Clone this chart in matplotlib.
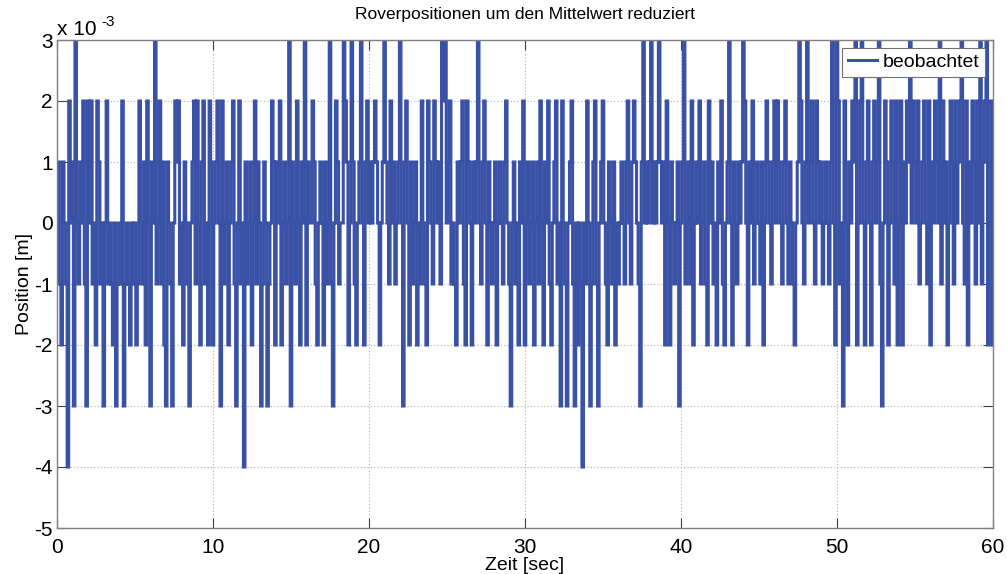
import numpy as np
import matplotlib
matplotlib.use("Agg")
import matplotlib.pyplot as plt
from matplotlib.ticker import FuncFormatter

plt.rcParams['font.family'] = ['Liberation Sans', 'DejaVu Sans']

# rover position minus its mean, in mm, sampled at 10 Hz (one row per second)
pos_00_10 = [
    0, 1, -1, -2, 1, 0, -1, -4, 2, 0,
    1, -3, 3, 0, -1, 1, 0, 2, -1, -3,
    2, 0, 2, -1, 0, -2, 2, 1, -1, 0,
    -3, 0, 2, -1, 0, -1, -2, 0, -3, -1,
    0, -1, 2, -3, -1, 0, -1, -2, 0, -1,
    0, -2, -1, 2, 0, -1, 1, -2, 2, 0,
    -3, 1, 0, 3, -1, 0, 2, -1, 1, -2,
    -3, 1, 0, -1, -3, 0, 2, 1, 2, -1,
    0, -2, 1, 0, -1, -3, 0, 1, 2, -1,
    2, 0, -2, 1, 2, -1, 0, -2, 2, 1,
]
pos_10_20 = [
    -2, 0, 1, 2, 0, -3, 2, -1, 0, 1,
    -2, 0, 1, 2, -1, -3, 0, 2, -1, 0,
    -4, 1, -1, 0, 1, -2, 0, 2, -1, 1,
    0, -3, -1, 1, 0, -3, -1, 0, 2, 1,
    -2, 1, 0, 2, -2, 0, 1, -1, 0, 3,
    -3, 1, 0, -1, 2, 0, -2, 1, 0, 3,
    -2, 1, 0, 0, 2, 1, -1, -2, 0, 1,
    0, -2, 1, -1, 0, 3, -1, -3, 0, 2,
    1, -1, 0, 0, 3, 2, 1, -2, 0, 3,
    1, -1, -2, 0, 1, 3, 0, -2, 1, 2,
]
pos_20_30 = [
    0, 1, 0, 1, 2, 1, 0, -2, 0, 1,
    3, 1, 0, -1, 2, 0, 1, -1, 0, 1,
    3, 0, -3, 1, 2, 0, -2, 1, -1, 0,
    1, -2, 0, -1, 2, 0, -1, -2, 2, 1,
    0, -1, 2, 1, 0, 1, -1, 3, 2, 3,
    0, 1, 2, -1, 0, -1, -2, 1, 0, 1,
    2, -1, -2, 2, 1, 0, -2, 1, 0, 1,
    3, 0, -1, 1, 2, 0, -2, 1, 0, -1,
    0, 1, -2, 0, 1, 0, -1, 1, 2, 0,
    -1, -3, 0, 1, -1, 0, -2, 1, 0, 2,
]
pos_30_40 = [
    -2, 0, 1, -1, 0, 1, -2, 0, 1, -1,
    2, 0, -2, 1, 0, 2, -1, -2, 0, 1,
    2, -1, 0, -3, 2, 0, -1, -3, 0, 1,
    2, -1, -3, 0, -2, 0, -1, -4, 0, -1,
    2, 0, -3, -1, 1, 2, -1, -3, 0, 1,
    2, 0, -1, -2, 1, 0, -1, 1, -2, 0,
    -1, 0, 1, 0, -1, 1, 2, 0, -1, 1,
    2, 1, 0, -1, -3, 1, 3, 0, 1, 0,
    1, 3, 0, 1, 0, 1, 3, 1, 0, 1,
    -2, 2, 0, -2, 1, 0, -1, 0, 1, -3,
]
pos_40_50 = [
    0, 1, 3, -1, 0, 1, -1, 2, -2, 0,
    1, 0, 2, -1, 0, 1, -1, -2, 2, 0,
    1, -1, 0, -2, 1, 0, 2, -1, -2, 0,
    1, 3, 0, -2, 1, 0, -1, 1, 0, 1,
    3, 2, 0, -2, 1, 0, 2, -1, 0, 1,
    0, -1, 1, -2, 0, 2, 1, 0, -1, 1,
    2, 0, 2, 1, 0, -1, 1, 2, 0, -1,
    1, 0, -1, -2, 0, 1, 3, 2, 0, -1,
    1, 3, 0, 1, 2, 0, -1, 2, 1, 0,
    1, -1, 0, 1, 0, -1, 1, 3, 0, -2,
]
pos_50_60 = [
    3, 2, -1, 0, -3, 2, 0, -2, 1, 0,
    2, 1, 3, -2, 0, 2, 3, 0, -2, 1,
    2, 0, -2, 1, 2, 0, 1, 3, -1, -3,
    0, 2, 1, -2, 0, 2, 1, -1, 2, -2,
    0, 2, -2, 1, 0, 2, 1, 3, 0, 2,
    1, 0, 2, -1, 0, 1, 2, 0, -1, 2,
    -2, 1, 0, 2, 1, 0, 3, -1, 2, 0,
    1, -2, 0, 2, 1, -1, 2, 0, 1, 2,
    3, 0, -1, 2, -2, 1, 0, 2, 1, -1,
    2, 0, 3, -1, 1, 2, 3, -2, 0, 2,
    -2,
]

pos_mm = np.array(pos_00_10 + pos_10_20 + pos_20_30 + pos_30_40 + pos_40_50 + pos_50_60)
t = np.arange(len(pos_mm)) * 0.1
pos = pos_mm * 1e-3

fig = plt.figure(figsize=(10.07, 5.74), dpi=100)
ax = fig.add_axes([57 / 1007, 1 - 528 / 574, (993 - 57) / 1007, (528 - 40) / 574])

ax.plot(t, pos, color='#3a52a6', lw=2.2, drawstyle='steps-mid',
        solid_joinstyle='miter', label='beobachtet')

ax.set_xlim(0, 60)
ax.set_ylim(-5e-3, 3e-3)
ax.set_xticks(np.arange(0, 61, 10))
ax.set_yticks(np.arange(-5, 4) * 1e-3)
ax.yaxis.set_major_formatter(FuncFormatter(lambda v, p: '%d' % round(v * 1e3)))

ax.grid(True, linestyle=(0, (1, 2)), color='#b0b0b0', lw=0.8)
ax.tick_params(direction='in', length=7, width=0.8, color='#404040',
               top=True, right=True, labelsize=15)
ax.tick_params(axis='x', pad=7)
ax.tick_params(axis='y', pad=3)
for s in ax.spines.values():
    s.set_color('#808080')
    s.set_linewidth(1.0)

# MATLAB-style exponent label above the y axis
ax.text(0, 1.002, 'x 10', transform=ax.transAxes, fontsize=15,
        ha='left', va='bottom')
ax.text(0.047, 1.022, '-3', transform=ax.transAxes, fontsize=11,
        ha='left', va='bottom')

ax.set_title('Roverpositionen um den Mittelwert reduziert', fontsize=12.5, pad=15)
ax.set_xlabel('Zeit [sec]', fontsize=14, labelpad=0)
ax.set_ylabel('Position [m]', fontsize=14, labelpad=1)

leg = ax.legend(loc='upper right', fontsize=14, fancybox=False, framealpha=1,
                edgecolor='#707070', handlelength=1.5, handletextpad=0.3,
                borderpad=0.3, borderaxespad=0.4)
leg.get_frame().set_linewidth(0.8)

fig.savefig('out.png', dpi=100)
